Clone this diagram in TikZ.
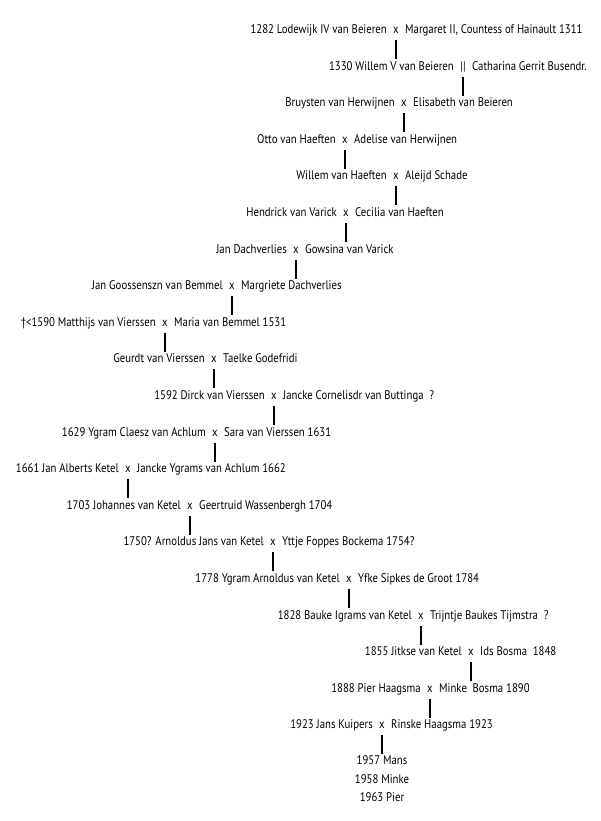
\documentclass[tikz,border=0pt]{standalone}
\usepackage{fontspec}
\setmainfont[FakeStretch=0.86]{PT Sans}
\begin{document}
\begin{tikzpicture}[x=1pt,y=-1pt,
  lt/.style={anchor=mid east,inner sep=0pt,font=\fontsize{12.5}{14}\selectfont},
  rt/.style={anchor=mid west,inner sep=0pt,font=\fontsize{12.5}{14}\selectfont},
  mk/.style={anchor=mid,inner sep=0pt,font=\fontsize{12.5}{14}\selectfont},
  ln/.style={line width=1.8pt}]
\useasboundingbox (0,0) rectangle (600,821);
\foreach \i/\xx/\L/\R/\m in {
 1/396/{1282 Lodewijk IV van Beieren}/{Margaret II, Countess of Hainault 1311}/x,
 2/463/{1330 Willem V van Beieren}/{Catharina Gerrit Busendr.}/{||},
 3/404/{Bruysten van Herwijnen}/{Elisabeth van Beieren}/x,
 4/345/{Otto van Haeften}/{Adelise van Herwijnen}/x,
 5/396/{Willem van Haeften}/{Aleijd Schade}/x,
 6/346/{Hendrick van Varick}/{Cecilia van Haeften}/x,
 7/296/{Jan Dachverlies}/{Gowsina van Varick}/x,
 8/232/{Jan Goossenszn van Bemmel}/{Margriete Dachverlies}/x,
 9/165/{†<1590 Matthijs van Vierssen}/{Maria van Bemmel 1531}/x,
 10/214/{Geurdt van Vierssen}/{Taelke Godefridi}/x,
 11/274/{1592 Dirck van Vierssen}/{Jancke Cornelisdr van Buttinga\ \ ?}/x,
 12/215/{1629 Ygram Claesz van Achlum}/{Sara van Vierssen 1631}/x,
 13/128/{1661 Jan Alberts Ketel}/{Jancke Ygrams van Achlum 1662}/x,
 14/190/{1703 Johannes van Ketel}/{Geertruid Wassenbergh 1704}/x,
 15/273/{1750? Arnoldus Jans van Ketel}/{Yttje Foppes Bockema 1754?}/x,
 16/349/{1778 Ygram Arnoldus van Ketel}/{Yfke Sipkes de Groot 1784}/x,
 17/421/{1828 Bauke Igrams van Ketel}/{Trijntje Baukes Tijmstra\ \ ?}/x,
 18/471/{1855 Jitkse van Ketel}/{Ids Bosma\ \ 1848}/x,
 19/430/{1888 Pier Haagsma}/{Minke\ \ Bosma 1890}/x,
 20/382/{1923 Jans Kuipers}/{Rinske Haagsma 1923}/x}{
  \pgfmathsetmacro{\yy}{31+(\i-1)*36.6}
  \node[mk] (m\i) at (\xx,\yy) {\m};
  \node[lt] (l\i) at (\xx-9,\yy) {\L};
  \node[rt] (r\i) at (\xx+9,\yy) {\R};
  \coordinate (a\i) at (\xx,\yy+9);
  \coordinate (b\i) at (\xx,\yy+28);
  \draw[ln] (a\i) -- (b\i);
}
\node[mk] (c1) at (382,762) {1957 Mans};
\node[mk] (c2) at (382,780.5) {1958 Minke};
\node[mk] (c3) at (382,799) {1963 Pier};
\end{tikzpicture}
\end{document}
